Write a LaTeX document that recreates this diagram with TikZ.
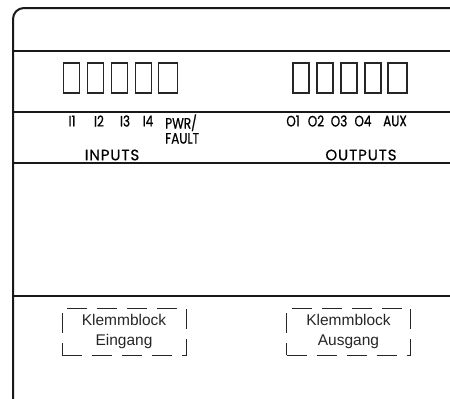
\documentclass[tikz,border=0pt]{standalone}
\usepackage{fontspec}
\setmainfont{Liberation Sans}
\newfontfamily\panelfont[FakeStretch=0.8, FakeBold=0.7]{Poppins}
\newfontfamily\groupfont[LetterSpace=6, FakeBold=0.6]{Poppins}
\usetikzlibrary{positioning}
\tikzset{
    frame/.style={line width=2pt, black!90},
    led/.style={draw, black!85, line width=1.4pt, minimum width=16pt, minimum height=30pt, inner sep=0pt},
    ledlabel/.style={font=\panelfont\fontsize{15}{15}\selectfont, inner sep=0pt},
    grouplabel/.style={font=\groupfont\fontsize{15}{15}\selectfont, inner sep=0pt},
    klemme/.style={draw, black!85, line width=1pt, dash pattern=on 20pt off 10pt,
        minimum width=124pt, minimum height=47pt, inner sep=0pt, align=center,
        font=\fontsize{15.5}{20}\selectfont}
}

\begin{document}
\begin{tikzpicture}[x=1pt, y=-1pt]

    % Fix the page to the size of the panel drawing
    \useasboundingbox (0,0) rectangle (450,399);

    % Outer housing with the rounded top left corner
    \draw[frame, rounded corners=11pt] (13,401) -- (13,8) -- (452,8);

    % Horizontal dividers of the front panel
    \foreach \y in {51,112,163,296}{
        \draw[frame] (13,\y) -- (452,\y);
    }

    % LED windows, inputs and outputs
    \foreach \x/\name in {71.5/i1, 95.5/i2, 119.5/i3, 143.5/i4}{
        \node[led] (led-\name) at (\x,78) {};
    }
    \node[led, minimum width=19pt] (led-pwr) at (168,78) {};
    \foreach \x/\name in {301/o1, 325/o2, 349/o3, 373/o4}{
        \node[led] (led-\name) at (\x,78) {};
    }
    \node[led, minimum width=19pt] (led-aux) at (397.5,78) {};

    % Labels under the LED windows
    \node[ledlabel] (lbl-i1) at (72,121) {I1};
    \node[ledlabel] (lbl-i2) at (99,121) {I2};
    \node[ledlabel] (lbl-i3) at (125,121) {I3};
    \node[ledlabel] (lbl-i4) at (148,121) {I4};
    \node[ledlabel, anchor=west, align=left] (lbl-pwr) at (165,129) {PWR/\\FAULT};
    \node[ledlabel] (lbl-o1) at (293,121) {O1};
    \node[ledlabel] (lbl-o2) at (316,121) {O2};
    \node[ledlabel] (lbl-o3) at (339,121) {O3};
    \node[ledlabel] (lbl-o4) at (363,121) {O4};
    \node[ledlabel] (lbl-aux) at (395,121) {AUX};

    \node[grouplabel] (inputs) at (112,155) {INPUTS};
    \node[grouplabel] (outputs) at (361,155) {OUTPUTS};

    % Terminal blocks
    \node[klemme] (klemme-ein) at (124,331.5) {Klemmblock\\Eingang};
    \node[klemme] (klemme-aus) at (348.5,331.5) {Klemmblock\\Ausgang};

\end{tikzpicture}
\end{document}
